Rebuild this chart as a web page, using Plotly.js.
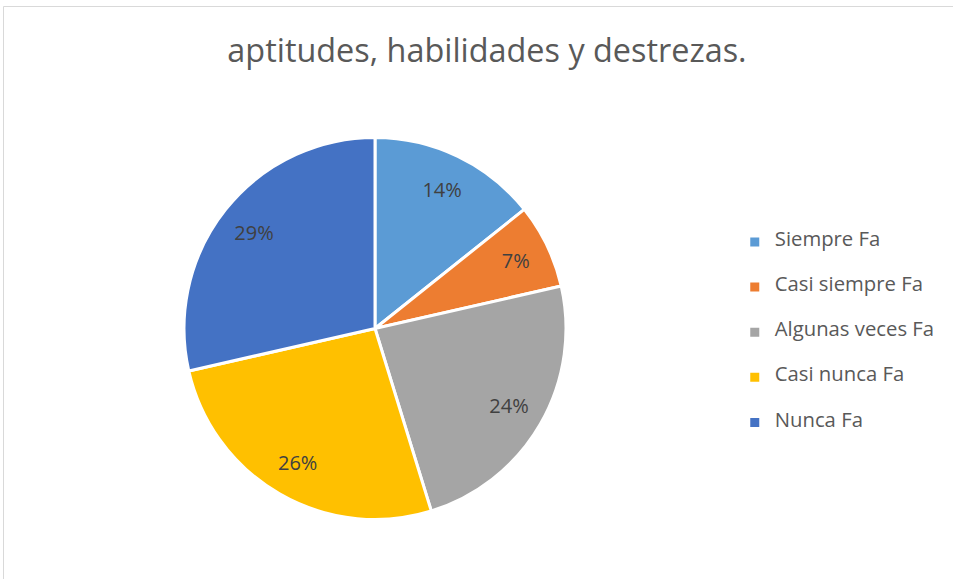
<!DOCTYPE html>
<html>
<head>
<meta charset="utf-8">
<script src="https://cdn.plot.ly/plotly-3.0.1.min.js"></script>
<style>html,body{margin:0;padding:0;background:#fff;}#chart{width:953px;height:579px;}</style>
</head>
<body>
<div id="chart"></div>
<script>
// Data (counts giving 14%, 7%, 24%, 26%, 29%)
var categories = ["Siempre Fa", "Casi siempre Fa", "Algunas veces Fa", "Casi nunca Fa", "Nunca Fa"];
var values = [6, 3, 10, 11, 12];
var colors = ["#5B9BD5", "#ED7D31", "#A5A5A5", "#FFC000", "#4472C4"];
var chartTitle = "aptitudes, habilidades y destrezas.";

var FONT = "Open Sans, Noto Sans, sans-serif";
var DOMAIN = { x: [0.1931, 0.5939], y: [0.1028, 0.7625] };

// legend labels padded with blank lines to reproduce the wide row spacing
var legendLabels = categories.map(function (c) {
  return ' <br><span style="font-size:20.3px">' + c + '</span><br> ';
});

var pieTrace = {
  type: "pie",
  labels: legendLabels,
  values: values,
  sort: false,
  direction: "clockwise",
  rotation: 0,
  marker: { colors: colors, line: { color: "#ffffff", width: 3 } },
  textinfo: "none",
  hoverinfo: "none",
  domain: DOMAIN
};

// transparent ring over the same slices: places the percentage labels in the outer part
var labelTrace = {
  type: "pie",
  labels: categories,
  values: values,
  sort: false,
  direction: "clockwise",
  rotation: 0,
  hole: 0.62,
  showlegend: false,
  marker: { colors: categories.map(function () { return "rgba(0,0,0,0)"; }), line: { width: 0 } },
  texttemplate: "%{percent:.0%}",
  textposition: "inside",
  insidetextorientation: "horizontal",
  textfont: { family: FONT, size: 20, color: "#404040" },
  hoverinfo: "none",
  domain: DOMAIN
};

var layout = {
  width: 953,
  height: 579,
  margin: { l: 0, r: 0, t: 0, b: 0 },
  paper_bgcolor: "#ffffff",
  plot_bgcolor: "#ffffff",
  title: {
    text: chartTitle,
    font: { family: FONT, size: 32.4, color: "#595959" },
    x: 0.511, xanchor: "center",
    y: 0.912, yanchor: "middle"
  },
  showlegend: true,
  legend: {
    x: 0.771, xanchor: "left",
    y: 0.426, yanchor: "middle",
    font: { family: FONT, size: 10.8, color: "#595959" },
    bgcolor: "rgba(0,0,0,0)"
  },
  shapes: [{
    type: "rect", xref: "paper", yref: "paper",
    x0: 3.5 / 953, x1: 1.05, y0: -0.05, y1: 1 - 6.5 / 579,
    line: { color: "#d9d9d9", width: 1 }, fillcolor: "rgba(0,0,0,0)", layer: "below"
  }]
};

Plotly.newPlot("chart", [pieTrace, labelTrace], layout, { displayModeBar: false, staticPlot: true });
</script>
</body>
</html>
